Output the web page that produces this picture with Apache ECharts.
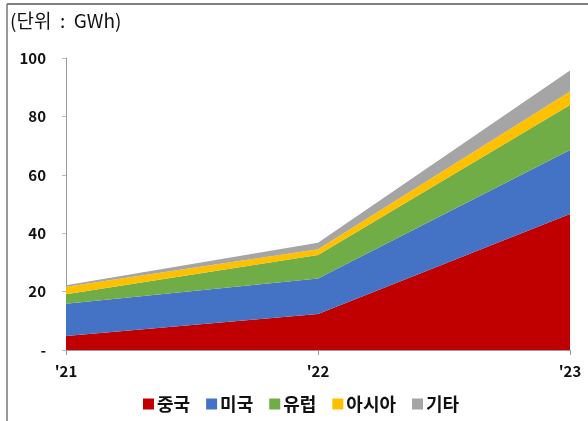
<!DOCTYPE html>
<html><head><meta charset="utf-8">
<script src="https://cdn.jsdelivr.net/npm/echarts@6/dist/echarts.min.js"></script>
<style>html,body{margin:0;padding:0;background:#fff;}#c{width:588px;height:421px;}</style>
</head><body><div id="c"></div>
<script>
const categories = ["'21", "'22", "'23"];
const seriesNames = ["중국", "미국", "유럽", "아시아", "기타"];
const china = [4.8, 12.3, 46.6];
const usa = [11.0, 12.2, 21.9];
const europe = [3.3, 8.0, 15.4];
const asia = [2.6, 2.0, 4.6];
const others = [0.5, 2.2, 7.2];
const yTicks = [0, 20, 40, 60, 80, 100];
const colors = ['#C00000', '#4472C4', '#70AD47', '#FFC000', '#A5A5A5'];
const values = [china, usa, europe, asia, others];
const font = '"Noto Sans CJK KR", "Noto Sans", sans-serif';

const chart = echarts.init(document.getElementById('c'));
chart.setOption({
  animation: false,
  backgroundColor: '#fff',
  color: colors,
  textStyle: { fontFamily: font },
  graphic: [
    { type: 'line', shape: { x1: 7, y1: 4, x2: 588, y2: 4 }, style: { stroke: '#555', lineWidth: 1.5 } },
    { type: 'line', shape: { x1: 7, y1: 4, x2: 7, y2: 421 }, style: { stroke: '#777', lineWidth: 1.5 } },
    { type: 'text', left: 10, top: 11, style: { text: '(단위  :  GWh)', font: '19px ' + font, fill: '#111' } }
  ],
  grid: { left: 66, right: 18, top: 58, bottom: 71 },
  legend: {
    bottom: 3, left: 138,
    itemWidth: 11, itemHeight: 11, itemGap: 16,
    icon: 'rect',
    textStyle: { fontSize: 18, fontWeight: 'bold', color: '#111', fontFamily: font, padding: [0, 0, 0, -2] },
    data: seriesNames
  },
  xAxis: {
    type: 'category', boundaryGap: false, data: categories,
    axisLine: { lineStyle: { color: '#999' } },
    axisTick: { show: true, length: 5, alignWithLabel: true, lineStyle: { color: '#999' } },
    axisLabel: { margin: 14, fontSize: 15, fontWeight: 'bold', color: '#111', fontFamily: font }
  },
  yAxis: {
    type: 'value', min: 0, max: 100, interval: 20,
    axisLine: { show: true, lineStyle: { color: '#999' } },
    axisTick: { show: true, length: 4, lineStyle: { color: '#bbb' } },
    splitLine: { show: false },
    axisLabel: {
      margin: 20, fontSize: 15, fontWeight: 'bold', color: '#111', fontFamily: font,
      formatter: v => (yTicks.includes(v) ? (v === 0 ? '-' : String(v)) : '')
    }
  },
  series: seriesNames.map((n, i) => ({
    name: n, type: 'line', stack: 'total', data: values[i],
    symbol: 'none', lineStyle: { width: 0 },
    areaStyle: { color: colors[i], opacity: 1 },
    itemStyle: { color: colors[i] }
  }))
});
</script></body></html>
